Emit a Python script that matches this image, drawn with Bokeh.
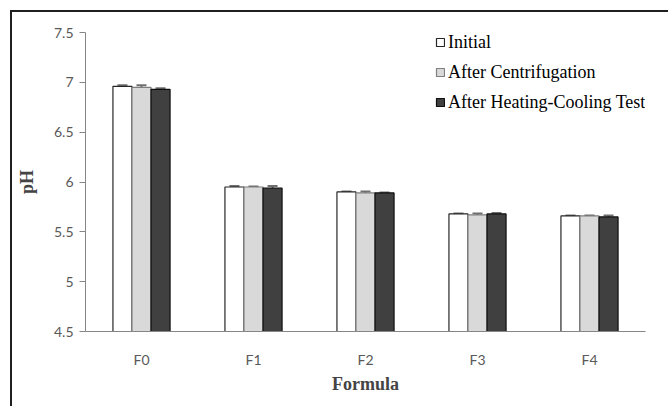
from bokeh.plotting import figure
from bokeh.models import (ColumnDataSource, FactorRange, Range1d, FixedTicker,
                          CustomJSTickFormatter, Whisker, TeeHead, Legend, LegendItem)
from bokeh.transform import dodge
from bokeh.embed import file_html
from bokeh.resources import INLINE

formulas = ["F0", "F1", "F2", "F3", "F4"]
series_names = ["Initial", "After Centrifugation", "After Heating-Cooling Test"]
initial = [6.96, 5.95, 5.90, 5.68, 5.66]
centrifugation = [6.95, 5.95, 5.89, 5.67, 5.66]
heating_cooling = [6.93, 5.94, 5.89, 5.68, 5.65]
err_initial = [0.01, 0.01, 0.005, 0.005, 0.005]
err_centrifugation = [0.02, 0.005, 0.015, 0.015, 0.005]
err_heating_cooling = [0.01, 0.02, 0.005, 0.01, 0.015]
y_ticks = [4.5, 5, 5.5, 6, 6.5, 7, 7.5]

values = [initial, centrifugation, heating_cooling]
errors = [err_initial, err_centrifugation, err_heating_cooling]
fills = ["#ffffff", "#d9d9d9", "#404040"]
outlines = ["#262626", "#7f7f7f", "#0d0d0d"]
offsets = [-0.17, 0.0, 0.17]

p = figure(x_range=FactorRange(*formulas), y_range=Range1d(4.5, 7.5),
           width=668, height=406, output_backend="svg", toolbar_location=None,
           min_border_left=85, min_border_right=23, min_border_top=32, min_border_bottom=75)
p.outline_line_color = None
p.xgrid.grid_line_color = None
p.ygrid.grid_line_color = None
p.border_fill_alpha = 0
p.background_fill_color = "#ffffff"
p.styles = {
    "background": ("linear-gradient(#1f1f1f,#1f1f1f) 10px 10px / 2px 500px no-repeat, "
                   "linear-gradient(#1f1f1f,#1f1f1f) 10px 10px / 700px 2px no-repeat, #ffffff"),
}

items = []
for i in range(3):
    src = ColumnDataSource(dict(
        x=formulas, top=values[i],
        upper=[v + e for v, e in zip(values[i], errors[i])],
        lower=[v - e for v, e in zip(values[i], errors[i])]))
    r = p.vbar(x=dodge("x", offsets[i], range=p.x_range), top="top", bottom=4.5,
               width=0.17, source=src, fill_color=fills[i], line_color=outlines[i],
               line_width=1.2)
    w = Whisker(base=dodge("x", offsets[i], range=p.x_range), upper="upper", lower="lower",
                source=src, line_color="#6f6f6f", line_width=2,
                upper_head=TeeHead(size=10, line_color="#6f6f6f", line_width=2),
                lower_head=TeeHead(size=10, line_color="#6f6f6f", line_width=2))
    p.add_layout(w)
    items.append(LegendItem(label=series_names[i], renderers=[r]))

legend = Legend(items=items, location=(350, 218), padding=0, margin=0, spacing=8,
                glyph_width=10, glyph_height=10, label_height=22, label_standoff=3,
                background_fill_alpha=0, border_line_color=None,
                label_text_font="Liberation Serif", label_text_font_size="18px",
                label_text_color="#000000")
p.add_layout(legend)

p.yaxis.ticker = FixedTicker(ticks=y_ticks)
p.yaxis.formatter = CustomJSTickFormatter(code="return tick.toString();")
p.yaxis.axis_line_color = "#868686"
p.yaxis.major_tick_line_color = "#868686"
p.yaxis.major_tick_out = 6
p.yaxis.major_tick_in = 0
p.yaxis.minor_tick_line_color = None
p.yaxis.major_label_text_font = "Lato"
p.yaxis.major_label_text_font_size = "14px"
p.yaxis.major_label_text_color = "#595959"
p.yaxis.major_label_standoff = 6
p.yaxis.axis_label = "pH"
p.yaxis.axis_label_text_font = "Liberation Serif"
p.yaxis.axis_label_text_font_style = "bold"
p.yaxis.axis_label_text_font_size = "18px"
p.yaxis.axis_label_standoff = 14

p.xaxis.axis_line_color = "#868686"
p.xaxis.major_tick_line_color = None
p.xaxis.minor_tick_line_color = None
p.xaxis.major_label_text_font = "Lato"
p.xaxis.major_label_text_font_size = "14px"
p.xaxis.major_label_text_color = "#595959"
p.xaxis.major_label_standoff = 13
p.xaxis.axis_label = "Formula"
p.xaxis.axis_label_text_font = "Liberation Serif"
p.xaxis.axis_label_text_font_style = "bold"
p.xaxis.axis_label_text_font_size = "18px"
p.xaxis.axis_label_standoff = 3

open("out.html", "w").write(file_html(p, INLINE))
